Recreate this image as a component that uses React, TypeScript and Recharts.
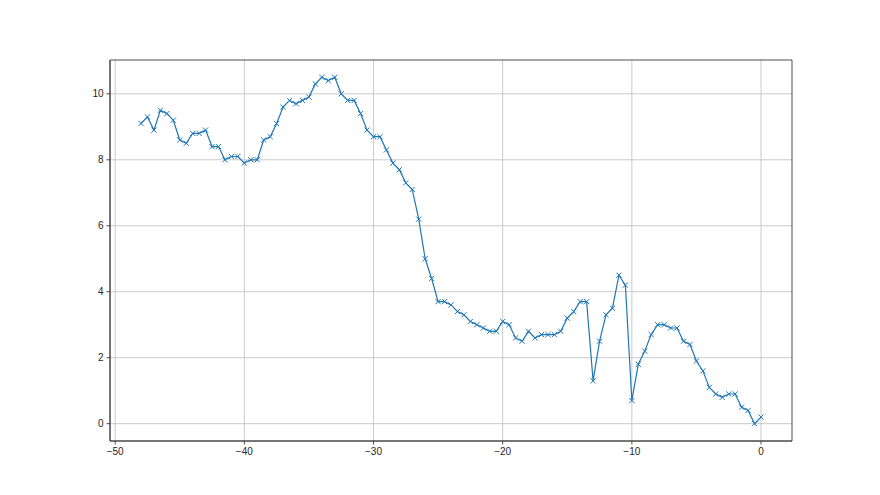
import React from "react";
import {
  LineChart,
  Line,
  XAxis,
  YAxis,
  CartesianGrid,
  ReferenceArea,
} from "recharts";

const xValues: number[] = [
  -48, -47.5, -47, -46.5, -46, -45.5, -45, -44.5, -44, -43.5, -43, -42.5, -42,
  -41.5, -41, -40.5, -40, -39.5, -39, -38.5, -38, -37.5, -37, -36.5, -36, -35.5,
  -35, -34.5, -34, -33.5, -33, -32.5, -32, -31.5, -31, -30.5, -30, -29.5, -29,
  -28.5, -28, -27.5, -27, -26.5, -26, -25.5, -25, -24.5, -24, -23.5, -23, -22.5,
  -22, -21.5, -21, -20.5, -20, -19.5, -19, -18.5, -18, -17.5, -17, -16.5, -16,
  -15.5, -15, -14.5, -14, -13.5, -13, -12.5, -12, -11.5, -11, -10.5, -10, -9.5,
  -9, -8.5, -8, -7.5, -7, -6.5, -6, -5.5, -5, -4.5, -4, -3.5, -3, -2.5, -2, -1.5,
  -1, -0.5, 0,
];

const yValues: number[] = [
  9.1, 9.3, 8.9, 9.5, 9.4, 9.2, 8.6, 8.5, 8.8, 8.8, 8.9, 8.4, 8.4, 8.0, 8.1, 8.1,
  7.9, 8.0, 8.0, 8.6, 8.7, 9.1, 9.6, 9.8, 9.7, 9.8, 9.9, 10.3, 10.5, 10.4, 10.5,
  10.0, 9.8, 9.8, 9.4, 8.9, 8.7, 8.7, 8.3, 7.9, 7.7, 7.3, 7.1, 6.2, 5.0, 4.4, 3.7,
  3.7, 3.6, 3.4, 3.3, 3.1, 3.0, 2.9, 2.8, 2.8, 3.1, 3.0, 2.6, 2.5, 2.8, 2.6, 2.7,
  2.7, 2.7, 2.8, 3.2, 3.4, 3.7, 3.7, 1.3, 2.5, 3.3, 3.5, 4.5, 4.2, 0.7, 1.8, 2.2,
  2.7, 3.0, 3.0, 2.9, 2.9, 2.5, 2.4, 1.9, 1.6, 1.1, 0.9, 0.8, 0.9, 0.9, 0.5, 0.4,
  0.0, 0.2,
];

const xTicks: number[] = [-50, -40, -30, -20, -10, 0];
const yTicks: number[] = [0, 2, 4, 6, 8, 10];

const xDomain: [number, number] = [-50.4, 2.4];
const yDomain: [number, number] = [-0.525, 11.025];

const data = xValues.map((x, i) => ({ x, y: yValues[i] }));

const LINE_COLOR = "#1f77b4";
const TEXT_COLOR = "#262626";
const SPINE_COLOR = "#3a3a3a";
const FONT = "'Liberation Sans', Arial, sans-serif";

const fmt = (v: number) => String(v).replace("-", "\u2212");

const XMarker = (props: any) => {
  const { cx, cy } = props;
  if (cx == null || cy == null) return null;
  const s = 2.6;
  return (
    <path
      d={`M${cx - s},${cy - s}L${cx + s},${cy + s}M${cx - s},${cy + s}L${cx + s},${cy - s}`}
      stroke={LINE_COLOR}
      strokeWidth={1}
      fill="none"
    />
  );
};

export default function App() {
  return (
    <div
      style={{
        position: "absolute",
        left: 0,
        top: 0,
        width: 880,
        height: 495,
        background: "#ffffff",
      }}
    >
      <LineChart
        width={880}
        height={495}
        data={data}
        margin={{ top: 60, right: 88, bottom: 0, left: 0 }}
      >
        <CartesianGrid
          stroke="#c4c4c4"
          strokeWidth={0.9}
          horizontalValues={yTicks}
          verticalValues={xTicks}
        />
        <XAxis
          dataKey="x"
          type="number"
          domain={xDomain}
          ticks={xTicks}
          allowDataOverflow
          height={54}
          tickSize={3.5}
          tickMargin={3}
          tickFormatter={fmt}
          axisLine={{ stroke: SPINE_COLOR, strokeWidth: 0.9 }}
          tickLine={{ stroke: SPINE_COLOR, strokeWidth: 0.9 }}
          tick={{ fill: TEXT_COLOR, fontSize: 10, fontFamily: FONT }}
          interval={0}
        />
        <YAxis
          dataKey="y"
          type="number"
          domain={yDomain}
          ticks={yTicks}
          allowDataOverflow
          width={110}
          tickSize={3.5}
          tickMargin={3}
          axisLine={{ stroke: SPINE_COLOR, strokeWidth: 0.9 }}
          tickLine={{ stroke: SPINE_COLOR, strokeWidth: 0.9 }}
          tick={{ fill: TEXT_COLOR, fontSize: 10, fontFamily: FONT }}
          interval={0}
        />
        <ReferenceArea
          x1={xDomain[0]}
          x2={xDomain[1]}
          y1={yDomain[0]}
          y2={yDomain[1]}
          fill="none"
          fillOpacity={0}
          stroke={SPINE_COLOR}
          strokeWidth={0.9}
        />
        <Line
          type="linear"
          dataKey="y"
          stroke={LINE_COLOR}
          strokeWidth={1.2}
          dot={<XMarker />}
          activeDot={false}
          isAnimationActive={false}
        />
      </LineChart>
    </div>
  );
}
